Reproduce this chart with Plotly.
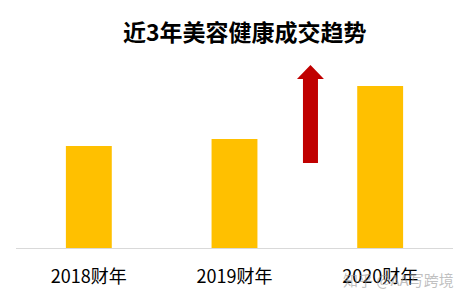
import plotly.graph_objects as go

categories = ["2018财年", "2019财年", "2020财年"]
values = [102, 109, 162]
title_text = "近3年美容健康成交趋势"
watermark = "知乎 @AA写跨境"

bar_color = "#FFC000"
arrow_color = "#C00000"

fig = go.Figure()
fig.add_trace(go.Bar(x=[0, 1, 2], y=values, marker=dict(color=bar_color, line=dict(width=0)),
                     width=0.315, hoverinfo="skip"))

# upward arrow between bar 2 and bar 3
sx0, sx1 = 1.470, 1.573
hx0, hx1 = 1.429, 1.614
yb, yh, yt = 85, 169, 183
path = (f"M {sx0} {yb} L {sx1} {yb} L {sx1} {yh} L {hx1} {yh} "
        f"L {(hx0 + hx1) / 2} {yt} L {hx0} {yh} L {sx0} {yh} Z")
fig.add_shape(type="path", path=path, xref="x", yref="y",
              fillcolor=arrow_color, line=dict(color=arrow_color, width=0))

fig.add_annotation(text=f"<b>{title_text}</b>", xref="paper", yref="paper", x=0.523, y=1, yshift=29,
                   showarrow=False, xanchor="center", yanchor="middle",
                   font=dict(family="Noto Sans CJK SC", size=23, color="#000000"))
fig.add_annotation(text=watermark, xref="paper", yref="paper", x=1.0, y=0, yshift=-31, xshift=3,
                   showarrow=False, xanchor="right", yanchor="middle",
                   font=dict(family="Noto Sans CJK SC", size=15, color="rgba(150,150,150,0.6)"))

fig.update_layout(
    width=469, height=304,
    margin=dict(l=16, r=16, t=60, b=56),
    paper_bgcolor="white", plot_bgcolor="white",
    showlegend=False,
    font=dict(family="Noto Sans CJK SC", color="#000000"),
    xaxis=dict(range=[-0.5, 2.5], tickmode="array", tickvals=[0, 1, 2], ticktext=categories,
               showline=True, linecolor="#D9D9D9", linewidth=1, showgrid=False, zeroline=False,
               ticks="", tickfont=dict(size=18, color="#000000", family="Noto Sans CJK SC"),
               ticklabelstandoff=12, fixedrange=True),
    yaxis=dict(range=[0, 188], visible=False, showgrid=False, zeroline=False, fixedrange=True),
)

fig.write_html("out.html")
